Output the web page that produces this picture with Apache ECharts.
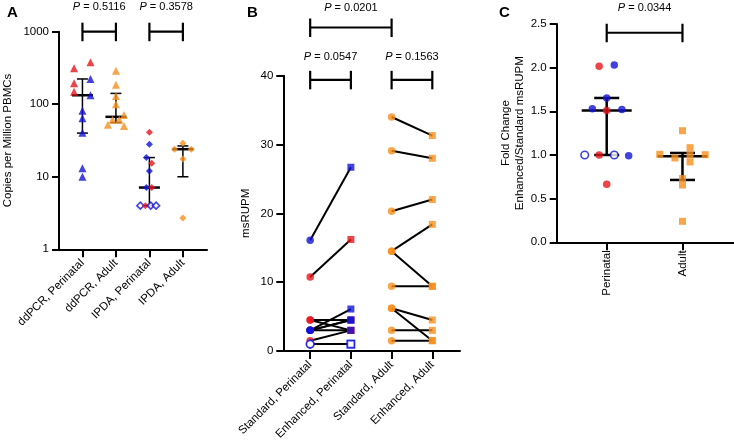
<!DOCTYPE html>
<html><head><meta charset="utf-8">
<script src="https://cdn.jsdelivr.net/npm/echarts@6/dist/echarts.min.js"></script>
<style>html,body{margin:0;padding:0;background:#fff}#c{width:734px;height:448px}</style>
</head><body><div id="c"></div>
<script>
// ---------- Panel A (log scale) ----------
const aCategories = ['ddPCR, Perinatal', 'ddPCR, Adult', 'IPDA, Perinatal', 'IPDA, Adult'];
const aDdpcrPerinatal = [314, 379, 195, 149, 223, 133, 81, 64, 40.6, 13.1, 10];
const aDdpcrPerinatalGroup = ['r','r','r','r','b','b','b','b','b','b','b'];
const aDdpcrPerinatalJitter = [-0.25, 0.24, -0.25, -0.25, 0.24, 0.24, 0, 0, 0, 0, 0];
const aDdpcrAdult = [290, 185, 130, 100, 71, 61, 61, 52, 50];
const aDdpcrAdultGroup = ['a','a','a','a','a','a','a','a','a'];
const aDdpcrAdultJitter = [0, 0, 0, 0, 0.24, -0.1, 0.1, -0.24, 0.24];
const aIpdaPerinatal = [41, 28, 18.4, 15.4, 12, 7.1, 7.1, 4, 4, 4, 4];
const aIpdaPerinatalGroup = ['r','b','b','r','b','b','r','o','r','o','o'];
const aIpdaPerinatalJitter = [0, 0, -0.09, 0.07, 0, -0.09, 0.07, -0.27, -0.12, 0.04, 0.2];
const aIpdaAdult = [29, 24, 24, 17.6, 2.7];
const aIpdaAdultGroup = ['a','a','a','a','a'];
const aIpdaAdultJitter = [0, -0.25, 0.25, 0, 0];
const aMedian = [133, 67, 7.1, 24];
const aQ1 = [40, 56, 4, 10];
const aQ3 = [223, 141, 18.4, 26.6];
const aTicks = [1, 10, 100, 1000];

// ---------- Panel B (paired) ----------
const bCategories = ['Standard, Perinatal', 'Enhanced, Perinatal', 'Standard, Adult', 'Enhanced, Adult'];
const bPerinatalStandard = [16.1, 10.75, 1.5, 3.0, 4.5, 4.5, 3.0, 3.0, 1.0, 1.0, 3.0];
const bPerinatalEnhanced = [26.7, 16.2, 3.0, 6.1, 3.0, 4.5, 4.5, 4.5, 1.0, 1.0, 3.0];
const bPerinatalGroup = ['b','r','r','b','r','r','b','b','o','o','b'];
const bAdultStandard = [34.0, 29.1, 20.3, 14.5, 14.5, 9.4, 6.2, 6.2, 3.0, 1.5];
const bAdultEnhanced = [31.3, 28.0, 22.0, 18.4, 9.4, 9.4, 4.5, 1.5, 3.0, 1.5];
const bTicks = [0, 10, 20, 30, 40];

// ---------- Panel C (fold change) ----------
const cCategories = ['Perinatal', 'Adult'];
const cPerinatal = [2.016, 2.03, 1.653, 1.53, 1.51, 1.52, 1.0, 1.0, 1.0, 0.99, 0.664];
const cPerinatalGroup = ['r','b','b','b','r','b','o','r','o','b','r'];
const cPerinatalJitter = [-0.1, 0.1, 0, -0.19, 0, 0.2, -0.29, -0.1, 0.1, 0.29, 0];
const cAdult = [1.278, 1.084, 1.008, 1.003, 1.0, 0.966, 0.92, 0.73, 0.656, 0.24];
const cAdultGroup = ['a','a','a','a','a','a','a','a','a','a'];
const cAdultJitter = [0, 0.1, -0.3, 0.3, 0.1, -0.1, 0.1, 0, 0, 0];
const cMedian = [1.51, 0.985];
const cQ1 = [1.0, 0.714];
const cQ3 = [1.653, 1.023];
const cTicks = [0, 0.5, 1.0, 1.5, 2.0, 2.5];

// ---------- Significance brackets ----------
const bracketsA = [[0, 1, 1000], [2, 3, 1000]];
const bracketsALabels = ['0.5116', '0.3578'];
const bracketsB = [[0, 1, 39.4], [2, 3, 39.4], [0, 2, 47.0]];
const bracketsBLabels = ['0.0547', '0.1563', '0.0201'];
const bracketsC = [[0, 1, 2.4]];
const bracketsCLabels = ['0.0344'];

// ---------- rendering ----------
const FONT = '"Liberation Sans", Arial, Helvetica, sans-serif';
const COLORS = { r: '#e8151d', b: '#1313d8', o: '#1313d8', a: '#f7901e' };
function itemStyle(g) {
  return g === 'o' ? { color: '#ffffff', borderColor: COLORS.o, borderWidth: 1.6 }
                   : { color: COLORS[g], borderWidth: 0 };
}
function pts(cat, vals, groups, jit, filter) {
  const out = [];
  vals.forEach((v, i) => {
    if (filter && !filter(groups[i])) return;
    out.push({ value: [cat + (jit ? jit[i] : 0), v], itemStyle: itemStyle(groups[i]) });
  });
  return out;
}
function scatter(gi, symbol, size, data, z) {
  return { type: 'scatter', xAxisIndex: gi, yAxisIndex: gi, symbol, symbolSize: size, data,
           silent: true, animation: false, z: z || 5 };
}
function xAxis(gi, min, max, cats, rotate, margin) {
  const idx = cats.map((_, i) => i);
  return { type: 'value', gridIndex: gi, min, max,
    axisLine: { show: true, onZero: false, lineStyle: { color: '#000', width: 2 } },
    axisTick: { show: true, length: 8, customValues: idx, lineStyle: { color: '#000', width: 2 } },
    axisLabel: { show: true, customValues: idx, formatter: v => cats[Math.round(v)] || '', rotate, margin,
                 color: '#000', fontSize: 11.5, fontFamily: FONT },
    splitLine: { show: false } };
}
function yAxisBase(gi, name, nameGap) {
  return { gridIndex: gi, name, nameLocation: 'middle', nameGap,
    nameTextStyle: { color: '#000', fontSize: 11.5, fontFamily: FONT, lineHeight: 14 },
    axisLine: { show: true, onZero: false, lineStyle: { color: '#000', width: 2 } },
    axisTick: { show: true, length: 7, lineStyle: { color: '#000', width: 2 } },
    axisLabel: { color: '#000', fontSize: 11.5, fontFamily: FONT, margin: 10 },
    splitLine: { show: false }, minorTick: { show: false } };
}
function errorBars(gi, meds, q1s, q3s, halfMed, halfCap, wV, wM, wC) {
  return { type: 'custom', xAxisIndex: gi, yAxisIndex: gi, silent: true, animation: false, z: 3,
    data: meds.map((m, i) => [i, m, q1s[i], q3s[i]]),
    encode: { x: 0, y: [1, 2, 3] },
    renderItem: (params, api) => {
      const x = api.value(0);
      const m = api.coord([x, api.value(1)]);
      const lo = api.coord([x, api.value(2)]);
      const hi = api.coord([x, api.value(3)]);
      const s = w => ({ stroke: '#000', lineWidth: w });
      return { type: 'group', children: [
        { type: 'line', shape: { x1: m[0], y1: lo[1], x2: m[0], y2: hi[1] }, style: s(wV) },
        { type: 'line', shape: { x1: m[0] - halfMed, y1: m[1], x2: m[0] + halfMed, y2: m[1] }, style: s(wM) },
        { type: 'line', shape: { x1: m[0] - halfCap, y1: lo[1], x2: m[0] + halfCap, y2: lo[1] }, style: s(wC) },
        { type: 'line', shape: { x1: m[0] - halfCap, y1: hi[1], x2: m[0] + halfCap, y2: hi[1] }, style: s(wC) }
      ] };
    } };
}
function brackets(gi, defs, labels, lifts) {
  return { type: 'custom', xAxisIndex: gi, yAxisIndex: gi, silent: true, animation: false, clip: false, z: 4,
    data: defs, encode: { x: [0, 1], y: 2 },
    renderItem: (params, api) => {
      const i = params.dataIndex;
      const p1 = api.coord([api.value(0), api.value(2)]);
      const p2 = api.coord([api.value(1), api.value(2)]);
      const st = { stroke: '#000', lineWidth: 2.2 };
      return { type: 'group', children: [
        { type: 'line', shape: { x1: p1[0], y1: p1[1], x2: p2[0], y2: p2[1] }, style: st },
        { type: 'line', shape: { x1: p1[0], y1: p1[1] - 9, x2: p1[0], y2: p1[1] + 9.5 }, style: st },
        { type: 'line', shape: { x1: p2[0], y1: p2[1] - 9, x2: p2[0], y2: p2[1] + 9.5 }, style: st },
        { type: 'text', x: (p1[0] + p2[0]) / 2, y: p1[1] - lifts[i],
          style: { text: '{i|P} = ' + labels[i], align: 'center', verticalAlign: 'middle',
                   fontSize: 11, fontFamily: FONT, fill: '#000',
                   rich: { i: { fontStyle: 'italic', fontSize: 11, fontFamily: FONT, fill: '#000' } } } }
      ] };
    } };
}
function pairLines(gi, xs, ys, xe, ye) {
  return { type: 'custom', xAxisIndex: gi, yAxisIndex: gi, silent: true, animation: false, z: 2,
    data: ys.map((v, i) => [xs, v, xe, ye[i]]), encode: { x: [0, 2], y: [1, 3] },
    renderItem: (params, api) => {
      const a = api.coord([api.value(0), api.value(1)]);
      const b = api.coord([api.value(2), api.value(3)]);
      return { type: 'line', shape: { x1: a[0], y1: a[1], x2: b[0], y2: b[1] },
               style: { stroke: '#000', lineWidth: 2 } };
    } };
}

const red = g => g === 'r', notRed = g => g !== 'r';
const adultGroupB = bAdultStandard.map(() => 'a');

const yA = Object.assign(yAxisBase(0, 'Copies per Million PBMCs', 44), { type: 'log', logBase: 10, min: aTicks[0], max: aTicks[aTicks.length - 1] });
yA.axisLabel.formatter = v => String(Math.round(v));
const yB = Object.assign(yAxisBase(1, 'msRUPM', 30), { type: 'value', min: bTicks[0], max: bTicks[bTicks.length - 1], interval: 10 });
const yC = Object.assign(yAxisBase(2, 'Fold Change\nEnhanced/Standard msRUPM', 25), { type: 'value', min: cTicks[0], max: cTicks[cTicks.length - 1], interval: 0.5 });
yC.axisLabel.formatter = v => v.toFixed(1);

const option = {
  backgroundColor: '#fff',
  animation: false,
  title: [
    { text: 'A', left: 2, top: 0, textStyle: { fontSize: 15, fontWeight: 'bold', fontFamily: FONT, color: '#000' } },
    { text: 'B', left: 242, top: 0, textStyle: { fontSize: 15, fontWeight: 'bold', fontFamily: FONT, color: '#000' } },
    { text: 'C', left: 494, top: 0, textStyle: { fontSize: 15, fontWeight: 'bold', fontFamily: FONT, color: '#000' } }
  ],
  grid: [
    { left: 55, right: 734 - 207, top: 31.7, bottom: 448 - 249.3 },
    { left: 283.3, right: 734 - 460, top: 75.7, bottom: 448 - 351 },
    { left: 556.7, right: 0, top: 24, bottom: 448 - 242.3 }
  ],
  xAxis: [
    xAxis(0, -0.7, 3.72, aCategories, 45, 12),
    xAxis(1, -0.66, 3.68, bCategories, 45, 12),
    xAxis(2, -0.66, 1.68, cCategories, 90, 8)
  ],
  yAxis: [yA, yB, yC],
  series: [
    // A
    errorBars(0, aMedian, aQ1, aQ3, 10.5, 5.5, 1.5, 2.5, 1.5),
    scatter(0, 'triangle', 8, pts(0, aDdpcrPerinatal, aDdpcrPerinatalGroup, aDdpcrPerinatalJitter)),
    scatter(0, 'triangle', 8, pts(1, aDdpcrAdult, aDdpcrAdultGroup, aDdpcrAdultJitter)),
    scatter(0, 'diamond', 7, pts(2, aIpdaPerinatal, aIpdaPerinatalGroup, aIpdaPerinatalJitter)),
    scatter(0, 'diamond', 7, pts(3, aIpdaAdult, aIpdaAdultGroup, aIpdaAdultJitter)),
    brackets(0, bracketsA, bracketsALabels, [25, 25]),
    // B
    pairLines(1, 0, bPerinatalStandard, 1, bPerinatalEnhanced),
    pairLines(1, 2, bAdultStandard, 3, bAdultEnhanced),
    scatter(1, 'circle', 7.5, pts(0, bPerinatalStandard, bPerinatalGroup, null, red), 5),
    scatter(1, 'circle', 7.5, pts(0, bPerinatalStandard, bPerinatalGroup, null, notRed), 6),
    scatter(1, 'rect', 7, pts(1, bPerinatalEnhanced, bPerinatalGroup, null, red), 5),
    scatter(1, 'rect', 7, pts(1, bPerinatalEnhanced, bPerinatalGroup, null, notRed), 6),
    scatter(1, 'circle', 7.5, pts(2, bAdultStandard, adultGroupB, null)),
    scatter(1, 'rect', 7, pts(3, bAdultEnhanced, adultGroupB, null)),
    brackets(1, bracketsB, bracketsBLabels, [22.5, 22.5, 20]),
    // C
    errorBars(2, cMedian, cQ1, cQ3, 25, 12.5, 2.5, 2.5, 2.5),
    scatter(2, 'circle', 7.5, pts(0, cPerinatal, cPerinatalGroup, cPerinatalJitter)),
    scatter(2, 'rect', 7, pts(1, cAdult, cAdultGroup, cAdultJitter)),
    brackets(2, bracketsC, bracketsCLabels, [25])
  ]
};
const chart = echarts.init(document.getElementById('c'), null, { renderer: 'canvas' });
chart.setOption(option);
</script>
</body></html>
